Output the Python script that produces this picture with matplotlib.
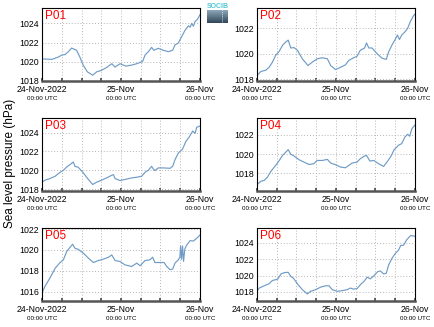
import matplotlib
matplotlib.use("Agg")
import matplotlib.pyplot as plt
from matplotlib.colors import LinearSegmentedColormap
import numpy as np

plt.rcParams['font.family'] = ['Liberation Sans', 'DejaVu Sans']

# hours since 24-Nov-2022 00:00 UTC and sea level pressure (hPa) per station
p01_h = [0, 3, 5, 6, 7, 8, 9, 10.5, 11.5, 12.5, 13.8, 15.4, 16.6, 18, 19.6, 21.2, 22.2, 23.7,
         25.5, 27.2, 28.8, 30.6, 31.3, 32.3, 33.3, 34, 35.3, 36.9, 38.4, 39.7, 40.4, 41.4,
         42.4, 43.4, 44.5, 45, 45.5, 46, 46.5, 47.2, 48]
p01_v = [1020.3, 1020.25, 1020.5, 1020.7, 1020.75, 1021.05, 1021.43, 1021.2, 1020.5, 1019.65,
         1018.95, 1018.6, 1018.95, 1019.1, 1019.4, 1019.8, 1019.45, 1019.8, 1019.55, 1019.65,
         1019.8, 1020.05, 1020.7, 1021.05, 1021.5, 1021.2, 1021.4, 1021.2, 1021.05, 1021.2,
         1021.75, 1021.95, 1022.6, 1023.25, 1023.75, 1023.6, 1024.0, 1023.7, 1024.2, 1024.4,
         1024.9]

p02_h = [0, 1.2, 2.7, 3.7, 4.7, 5.7, 6.8, 7.8, 8.8, 9.5, 10.3, 11.3, 12.3, 13.8, 15.5, 16.8,
         18.3, 19.9, 21.4, 22.4, 23.9, 25.4, 26.9, 27.9, 29.4, 30.4, 31.4, 32.7, 33.3, 34, 35,
         36.5, 38, 39.3, 40, 41, 42, 42.7, 43.3, 44, 45, 45.8, 46.6, 47.6, 48]
p02_v = [1018.27, 1018.6, 1018.7, 1018.93, 1019.33, 1019.87, 1020.2, 1020.67, 1020.93, 1021.07,
         1020.45, 1020.48, 1020.27, 1019.6, 1019.07, 1019.33, 1019.6, 1019.68, 1019.6, 1019.07,
         1018.75, 1018.93, 1019.12, 1019.47, 1019.68, 1019.79, 1020.27, 1020.45, 1020.85,
         1020.45, 1020.45, 1020.0, 1019.65, 1019.55, 1020.13, 1020.67, 1021.12, 1021.47,
         1021.12, 1021.47, 1021.73, 1022.0, 1022.53, 1023.0, 1023.12]

p03_h = [0, 0.9, 2.4, 4, 5.5, 6.5, 7.5, 8.5, 9.5, 10, 11, 12.4, 14.1, 15.4, 16.6, 18.1, 19.6,
         21.2, 21.7, 22.2, 23.7, 25.2, 27.2, 28.8, 30.3, 31.3, 32.3, 33.3, 33.8, 34.3, 35.3,
         36.9, 38.9, 39.7, 40.4, 41.4, 42.7, 43.7, 44.8, 45.8, 46.5, 47, 48]
p03_v = [1018.74, 1018.95, 1019.12, 1019.37, 1019.79, 1020.0, 1020.35, 1020.6, 1020.88, 1020.42,
         1020.32, 1019.79, 1019.02, 1018.49, 1018.74, 1018.95, 1019.19, 1019.47, 1019.54,
         1019.12, 1018.91, 1019.02, 1019.19, 1019.26, 1019.37, 1019.79, 1020.0, 1020.42,
         1020.14, 1019.96, 1020.25, 1020.25, 1020.21, 1020.42, 1021.12, 1021.82, 1022.25,
         1023.05, 1023.58, 1024.17, 1023.93, 1024.56, 1024.7]

p04_h = [0, 1.2, 2.2, 3.2, 4.2, 5.7, 6.8, 7.8, 8.8, 9.5, 10.3, 11.3, 12.8, 14.3, 15.8, 17.3,
         18.3, 19.9, 21.4, 22.4, 23.9, 25.4, 26.9, 27.9, 28.9, 30.4, 31.4, 32.7, 33.3, 34.3,
         35.5, 37, 38.5, 39.5, 40.7, 41.7, 43, 44, 45, 45.8, 46.4, 47.1, 48]
p04_v = [1016.86, 1017.2, 1017.28, 1017.62, 1018.2, 1018.83, 1019.34, 1019.86, 1020.2, 1020.45,
         1019.97, 1019.79, 1019.41, 1019.17, 1018.93, 1019.0, 1019.34, 1019.34, 1019.45,
         1019.07, 1018.9, 1018.66, 1018.59, 1018.83, 1019.07, 1019.17, 1019.52, 1019.79,
         1019.86, 1019.28, 1019.34, 1019.0, 1018.72, 1019.17, 1019.76, 1020.45, 1020.9,
         1021.07, 1021.76, 1022.03, 1021.83, 1022.62, 1022.97]

p05_h = [0, 0.9, 2.4, 4, 5.5, 6.5, 7.5, 8.5, 9.3, 10, 11, 12.6, 14.1, 15.6, 17.1, 18.6, 20.2,
         21.2, 22.2, 23.7, 25.2, 27.2, 28.8, 29.8, 31.3, 32.8, 33.6, 34.3, 35.8, 37.1, 37.9,
         38.9, 39.7, 40.4, 41.4, 41.9, 42.1, 42.4, 42.7, 43.0, 43.4, 44, 45, 46, 47, 48]
p05_v = [1015.87, 1016.51, 1017.3, 1018.25, 1018.79, 1019.05, 1019.84, 1020.25, 1020.54,
         1020.16, 1020.06, 1019.68, 1019.21, 1018.79, 1018.98, 1019.11, 1019.3, 1019.52,
         1018.98, 1018.89, 1018.57, 1018.41, 1018.73, 1018.48, 1018.98, 1019.05, 1019.3,
         1018.79, 1018.79, 1018.79, 1018.41, 1018.1, 1018.16, 1018.73, 1019.05, 1019.3,
         1020.38, 1019.1, 1020.38, 1018.9, 1020.1, 1020.48, 1020.89, 1020.85, 1021.11, 1021.43]

p06_h = [0, 0.7, 2.2, 3.7, 4.7, 6.3, 7.3, 8.3, 9.5, 10.3, 11.1, 12.3, 13.8, 15.3, 16.3, 17.8,
         19.4, 20.9, 21.9, 22.9, 24.4, 25.9, 27.4, 28.4, 29.2, 30.4, 31.4, 32.5, 33.5, 34.5,
         35.5, 36.7, 37.5, 38.5, 39.3, 40, 41, 42, 43, 43.7, 44.5, 45.5, 46.7, 48]
p06_v = [1018.08, 1018.48, 1018.76, 1019.0, 1019.4, 1019.56, 1020.2, 1020.36, 1020.4, 1019.88,
         1019.68, 1019.0, 1018.28, 1017.76, 1018.08, 1018.28, 1018.6, 1018.76, 1018.76,
         1018.28, 1018.08, 1018.16, 1018.28, 1018.48, 1018.36, 1018.4, 1018.88, 1019.28,
         1019.8, 1019.6, 1019.96, 1020.48, 1020.56, 1020.2, 1020.28, 1021.28, 1022.08,
         1022.68, 1023.08, 1023.68, 1023.68, 1024.36, 1024.88, 1024.8]

names = ['P01', 'P02', 'P03', 'P04', 'P05', 'P06']
hours = [p01_h, p02_h, p03_h, p04_h, p05_h, p06_h]
values = [p01_v, p02_v, p03_v, p04_v, p05_v, p06_v]
ylims = [(1018, 1025.6), (1017.85, 1023.6), (1017.8, 1025.55),
         (1016.2, 1023.7), (1015.1, 1022.1), (1016.9, 1025.8)]
yticks = [[1018, 1020, 1022, 1024], [1018, 1020, 1022], [1018, 1020, 1022, 1024],
          [1018, 1020, 1022], [1016, 1018, 1020, 1022], [1018, 1020, 1022, 1024]]

xticks = [0, 24, 48]
xlabels = ['24-Nov-2022', '25-Nov', '26-Nov']

fig = plt.figure(figsize=(4.34, 3.27), dpi=100)

lefts = [0.0968, 0.592]
bottoms = [0.7523, 0.4159, 0.0795]
w, h = 0.364, 0.2232

for k in range(6):
    ax = fig.add_axes([lefts[k % 2], bottoms[k // 2], w, h])
    ax.plot(hours[k], values[k], color='#6f9cc6', lw=0.85)
    ax.set_xlim(0, 48)
    ax.set_ylim(*ylims[k])
    ax.set_yticks(yticks[k])
    ax.set_xticks(np.arange(0, 49, 6))
    ax.set_xticklabels([])
    ax.grid(True, color='#b5b5b5', linestyle=(0, (1, 2)), lw=0.7)
    ax.tick_params(axis='y', length=0, labelsize=6.3, pad=2)
    ax.tick_params(axis='x', direction='in', length=2.5, width=1.2, color='#444444')
    for s in ['left', 'top', 'right']:
        ax.spines[s].set_linewidth(0.8)
        ax.spines[s].set_color('black')
    ax.spines['bottom'].set_linewidth(1.8)
    ax.spines['bottom'].set_color('#555555')
    ax.text(0.02, 0.97, names[k], transform=ax.transAxes, color='red',
            fontsize=8.5, va='top', ha='left')
    tr = ax.get_xaxis_transform()
    for xt, lab in zip(xticks, xlabels):
        ax.text(xt, -0.12, lab, transform=tr, ha='center', va='center', fontsize=6.3)
        ax.text(xt, -0.235, '00:00 UTC', transform=tr, ha='center', va='center', fontsize=4.5)

fig.text(0.022, 0.5, 'Sea level pressure (hPa)', rotation=90, ha='center', va='center',
         fontsize=8.5)

# small logo in the top gap
logo_cmap = LinearSegmentedColormap.from_list('logo', ['#33485a', '#8aa6b8'])
lax = fig.add_axes([207 / 434, 1 - 23 / 327, 21 / 434, 13 / 327])
grad = np.linspace(0, 1, 20).reshape(-1, 1)
lax.imshow(grad, aspect='auto', cmap=logo_cmap, origin='lower', extent=[0, 20, 0, 20])
lax.axvline(14, color='white', lw=0.6, linestyle=(0, (1, 1.5)))
lax.set_xlim(0, 20)
lax.set_ylim(0, 20)
lax.axis('off')
fig.text(217.5 / 434, 1 - 6 / 327, 'SOCIB', color='#4fc6d8', fontsize=5,
         ha='center', va='center', fontweight='bold')

fig.savefig('out.png', dpi=100)
